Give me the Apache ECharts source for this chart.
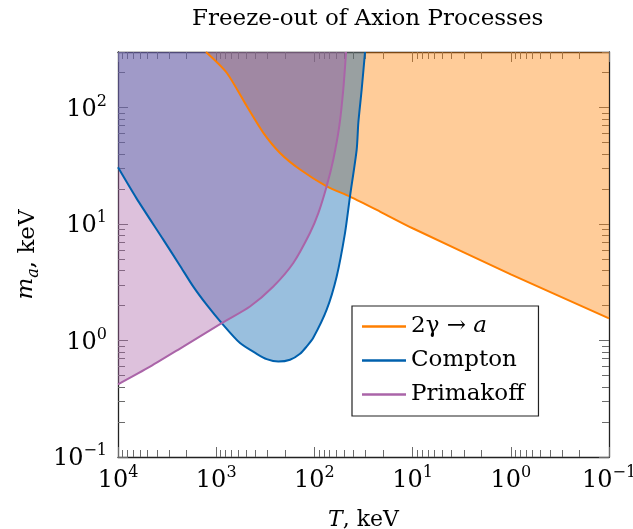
<!DOCTYPE html>
<html><head><meta charset="utf-8">
<script src="https://cdn.jsdelivr.net/npm/echarts@6/dist/echarts.min.js"></script>
<style>html,body{margin:0;padding:0;background:#fff}#c{width:633px;height:529px}</style>
</head><body><div id="c"></div>
<script>
// ---- data (T in keV, m_a in keV) ----
const photonT   = [1270, 782, 489, 331, 224, 140, 75, 43.4, 21.5, 10, 1, 0.1];
const photonM   = [300, 199, 103, 60.7, 40.8, 29.4, 21.1, 17.2, 12.8, 9.2, 3.7, 1.55];
const comptonT  = [10000, 6501, 3459, 2337, 1711, 1241, 879, 572, 387, 306, 233, 177, 140, 120, 103, 75, 59.3, 48.8, 43.4, 37.1, 35.7, 33.0, 30.5];
const comptonM  = [30.7, 16.7, 7.35, 4.39, 2.90, 2.01, 1.41, 0.95, 0.769, 0.692, 0.659, 0.683, 0.769, 0.888, 1.05, 1.84, 3.55, 8.37, 17.3, 43.6, 74, 143, 300];
const primaT    = [10000, 4721, 2163, 879, 453, 262, 164, 111, 91.2, 75, 64.2, 55.8, 50.8, 47.6];
const primaM    = [0.421, 0.597, 0.888, 1.41, 1.96, 2.91, 4.63, 8.37, 12.4, 21.1, 35.8, 69.2, 143, 300];
const seriesNames = ['2γ → a', 'Compton', 'Primakoff'];
const seriesColors = ['#FF7F00', '#0060AD', '#AA64A8'];
const xMajor = [10000, 1000, 100, 10, 1, 0.1];
const yMajor = [0.1, 1, 10, 100];
const minorMult = [2, 3, 4, 5, 6, 7, 8, 9];

const FONT = 'DejaVu Serif';
function minorsFor(majors, lo, hi) {
  const out = [];
  majors.forEach(d => minorMult.forEach(k => { const v = d * k; if (v > lo && v <= hi) out.push(+v.toPrecision(6)); }));
  return out;
}
const xMinor = minorsFor(xMajor, 0.1, 10000);
const yMinor = minorsFor(yMajor, 0.1, 300);

function pow10Label(v) {
  const e = Math.round(Math.log10(v));
  return '{b|10}{s|' + (e < 0 ? '\u2212' + (-e) : e) + '}';
}
const labRich = {
  b: { fontFamily: FONT, fontSize: 24, color: '#000', lineHeight: 28, verticalAlign: 'bottom' },
  s: { fontFamily: FONT, fontSize: 16, color: '#000', lineHeight: 16, verticalAlign: 'top' }
};
const tickStyle = { color: '#6b6b6b', width: 1 };
const lineAx = { show: true, lineStyle: { color: '#222', width: 1.3 } };

function xAx(pos, major, showLabel) {
  return {
    type: 'log', logBase: 10, min: 0.1, max: 10000, inverse: true, position: pos,
    axisLine: major ? lineAx : { show: false },
    splitLine: { show: false }, minorTick: { show: false },
    axisTick: { show: true, inside: true, length: major ? 10 : 7, lineStyle: tickStyle, customValues: major ? xMajor : xMinor },
    axisLabel: showLabel ? { show: true, margin: 8, customValues: xMajor, formatter: pow10Label, rich: labRich } : { show: false },
    name: showLabel ? '{i|T}, keV' : '',
    nameLocation: 'middle', nameGap: 52,
    nameTextStyle: { fontFamily: FONT, fontSize: 22, color: '#000',
      rich: { i: { fontFamily: FONT, fontStyle: 'italic', fontSize: 22, color: '#000' } } }
  };
}
function yAx(pos, major, showLabel) {
  return {
    type: 'log', logBase: 10, min: 0.1, max: 300, position: pos,
    axisLine: major ? lineAx : { show: false },
    splitLine: { show: false }, minorTick: { show: false },
    axisTick: { show: true, inside: true, length: major ? 10 : 7, lineStyle: tickStyle, customValues: major ? yMajor : yMinor },
    axisLabel: showLabel ? { show: true, margin: 11, customValues: yMajor, formatter: pow10Label, rich: labRich } : { show: false },
    name: showLabel ? '{i|m}{sub|a}, keV' : '',
    nameLocation: 'middle', nameGap: 73, nameRotate: 90,
    nameTextStyle: { fontFamily: FONT, fontSize: 23, color: '#000',
      rich: {
        i: { fontFamily: FONT, fontStyle: 'italic', fontSize: 23, color: '#000', lineHeight: 27, verticalAlign: 'top' },
        sub: { fontFamily: FONT, fontStyle: 'italic', fontSize: 16, color: '#000', lineHeight: 16, verticalAlign: 'bottom' }
      } }
  };
}

const sets = [[photonT, photonM], [comptonT, comptonM], [primaT, primaM]];
const series = [];
const smoothOpt = { smooth: 0.25 };
sets.forEach((s, i) => {
  series.push(Object.assign({
    name: 'fill' + i, type: 'line', data: s[0].map((t, j) => [t, s[1][j]]),
    symbol: 'none', silent: true, z: 1,
    lineStyle: { width: 0, opacity: 0 },
    areaStyle: { color: seriesColors[i], opacity: 0.4, origin: 'end' }
  }, smoothOpt));
});
sets.forEach((s, i) => {
  series.push(Object.assign({
    name: seriesNames[i], type: 'line', data: s[0].map((t, j) => [t, s[1][j]]),
    symbol: 'none', showSymbol: false, z: 5, color: seriesColors[i],
    lineStyle: { width: 2, color: seriesColors[i] }
  }, smoothOpt));
});

const chart = echarts.init(document.getElementById('c'), null, { renderer: 'canvas' });
chart.setOption({
  animation: false,
  backgroundColor: '#fff',
  title: { text: 'Freeze-out of Axion Processes', left: 187, top: 3,
    textStyle: { fontFamily: FONT, fontSize: 23, fontWeight: 'normal', color: '#000' } },
  grid: { left: 118, right: 24, top: 52, bottom: 72, outerBoundsMode: 'none', containLabel: false },
  xAxis: [xAx('bottom', true, true), xAx('bottom', false, false), xAx('top', true, false), xAx('top', false, false)],
  yAxis: [yAx('left', true, true), yAx('left', false, false), yAx('right', true, false), yAx('right', false, false)],
  legend: {
    data: seriesNames.map(n => ({ name: n, icon: 'rect' })), orient: 'vertical', left: 352, top: 306,
    backgroundColor: '#fff', borderColor: '#222', borderWidth: 1.2, borderRadius: 0,
    padding: [8, 14, 9, 10], itemGap: 9, itemWidth: 44, itemHeight: 2.5,
    formatter: n => n === '2γ → a' ? '2γ → {i|a}' : n,
    textStyle: { fontFamily: FONT, fontSize: 23, color: '#000', lineHeight: 25,
      rich: { i: { fontFamily: FONT, fontStyle: 'italic', fontSize: 23, color: '#000', lineHeight: 25 } } }
  },
  series: series
});
</script></body></html>
